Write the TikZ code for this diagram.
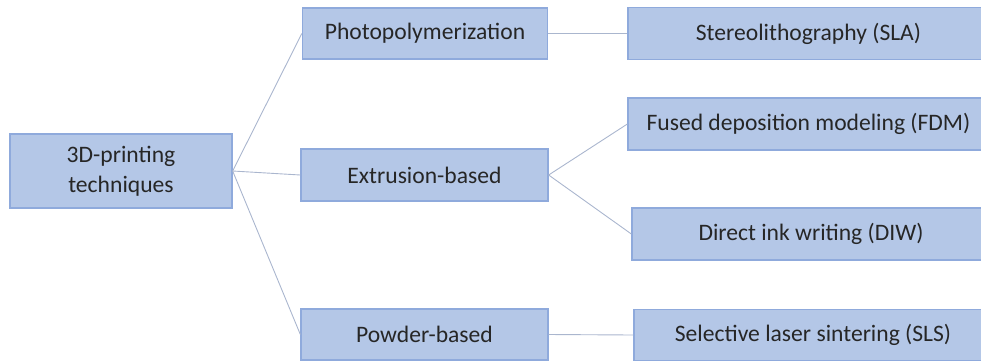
\documentclass[tikz,border=0pt]{standalone}
\usepackage{fontspec}
\setmainfont{Carlito}
\usepackage{tikz}
\definecolor{boxblue}{RGB}{180,199,231}
\definecolor{boxedge}{RGB}{143,170,220}
\definecolor{linkgray}{RGB}{170,182,206}

\begin{document}
\begin{tikzpicture}[x=1pt,y=-1pt]
    % Define canvas
    \useasboundingbox (0,0) rectangle (981,360);
    \clip (0,0) rectangle (981,360);
    \tikzset{
        stage/.style={draw=boxedge,fill=boxblue,line width=1.3pt,
            inner sep=0pt,align=center,text=black!85,
            font=\fontsize{23.6}{30}\selectfont},
        link/.style={draw=linkgray,line width=0.9pt}
    }

    % Draw the boxes
    \node[stage,minimum width=222pt,minimum height=74pt] (root) at (121,171) {3D-printing\\techniques};
    \node[stage,minimum width=245pt,minimum height=51pt] (photo) at (425,33.5) {Photopolymerization};
    \node[stage,minimum width=247pt,minimum height=52pt] (extr) at (424.5,175) {Extrusion-based};
    \node[stage,minimum width=247pt,minimum height=51pt] (powder) at (424.5,334.5) {Powder-based};
    \node[stage,minimum width=361pt,minimum height=52pt] (sla) at (808.5,33.5) {Stereolithography (SLA)};
    \node[stage,minimum width=361pt,minimum height=52pt] (fdm) at (808.5,124) {Fused deposition modeling (FDM)};
    \node[stage,minimum width=358pt,minimum height=52pt] (diw) at (811,234) {Direct ink writing (DIW)};
    \node[stage,minimum width=358pt,minimum height=51pt] (sls) at (813,335) {Selective laser sintering (SLS)};

    % Draw the links
    \draw[link] (root.east) -- (photo.west);
    \draw[link] (root.east) -- (extr.west);
    \draw[link] (root.east) -- (powder.west);
    \draw[link] (photo.east) -- (sla.west);
    \draw[link] (extr.east) -- (fdm.west);
    \draw[link] (extr.east) -- (diw.west);
    \draw[link] (powder.east) -- (sls.west);
\end{tikzpicture}
\end{document}
